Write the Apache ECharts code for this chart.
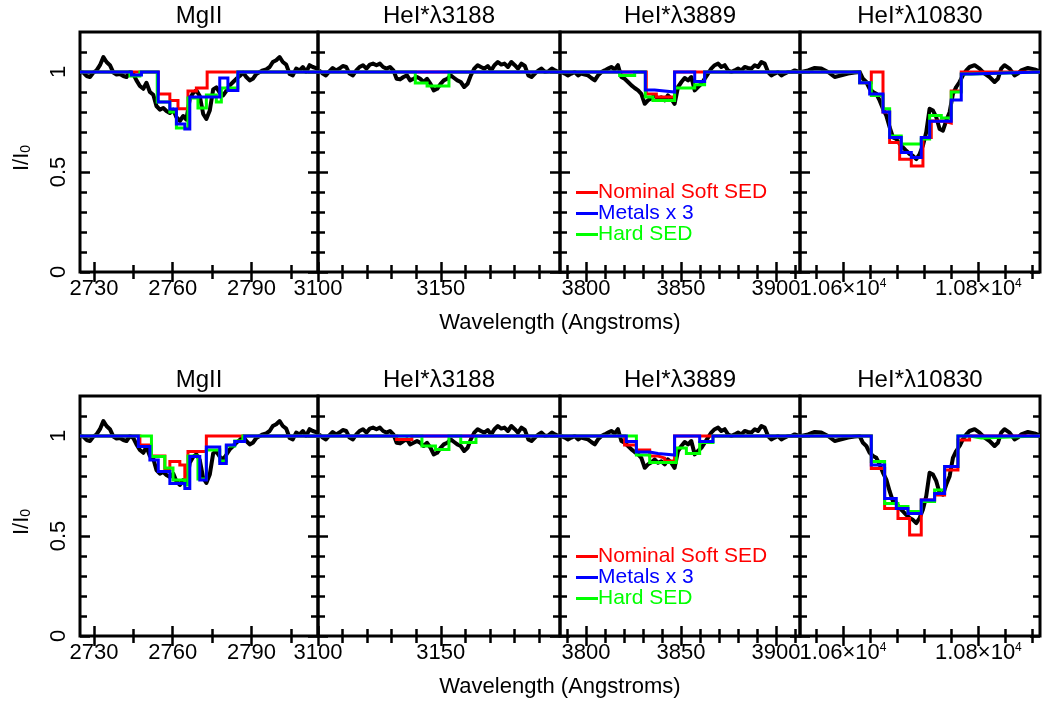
<!DOCTYPE html>
<html>
<head>
<meta charset="utf-8">
<script src="https://cdn.jsdelivr.net/npm/echarts@6/dist/echarts.min.js"></script>
<style>
  html, body { margin: 0; padding: 0; background: #fff; }
  #chart { width: 1042px; height: 702px; }
</style>
</head>
<body>
<div id="chart"></div>
<script>
// ---- Observed spectra (wavelength in Angstroms, normalised flux I/I0) ----
const mgWave = [2724.7,2726.0,2727.2,2728.5,2729.8,2731.0,2732.3,2733.6,2734.8,2736.1,2737.4,2738.6,2739.9,2741.2,2742.4,2743.7,2745.0,2746.2,2747.5,2748.8,2750.0,2751.3,2752.6,2753.8,2755.1,2756.4,2757.6,2758.9,2760.2,2761.4,2762.7,2764.0,2765.2,2766.5,2767.8,2769.0,2770.3,2771.6,2772.8,2774.1,2775.4,2776.6,2777.9,2779.2,2780.4,2781.7,2783.0,2784.2,2785.5,2786.8,2788.0,2789.3,2790.5,2791.8,2793.1,2794.3,2795.6,2796.9,2798.1,2799.4,2800.7,2801.9,2803.2,2804.5,2805.7,2807.0,2808.3,2809.5,2810.8,2812.1,2813.3,2815.1];
const mgFlux = [1.00,0.997,0.98,0.975,0.997,1.008,1.034,1.075,1.05,1.034,0.997,0.987,0.99,0.98,0.975,1.0,0.99,0.958,0.93,0.916,0.946,0.90,0.886,0.83,0.812,0.82,0.805,0.795,0.812,0.774,0.755,0.78,0.762,0.866,0.896,0.908,0.88,0.79,0.765,0.807,0.913,0.923,0.896,0.883,0.906,0.933,0.95,0.966,0.98,0.997,0.975,0.958,0.966,0.99,1.0,1.008,1.013,1.025,1.05,1.059,1.075,1.05,1.037,0.99,0.983,1.017,1.008,1.025,1.0,1.034,1.025,1.017];

const h3188Wave = [3100.5,3101.9,3103.2,3104.6,3106.0,3107.3,3108.7,3110.1,3111.5,3112.8,3114.2,3115.6,3116.9,3118.3,3119.7,3121.1,3122.4,3123.8,3125.2,3126.5,3127.9,3129.3,3130.7,3132.0,3133.4,3134.8,3136.2,3137.5,3138.9,3140.3,3141.6,3143.0,3144.4,3145.8,3147.1,3148.5,3149.9,3151.2,3152.6,3154.0,3155.4,3156.7,3158.1,3159.5,3160.9,3162.2,3163.6,3165.0,3166.3,3167.7,3169.1,3170.5,3171.8,3173.2,3174.6,3175.9,3177.3,3178.7,3180.1,3181.4,3182.8,3184.2,3185.6,3186.9,3188.3,3189.7,3191.0,3192.4,3193.8,3195.2,3196.5,3197.9];
const h3188Flux = [1.008,0.992,0.983,1.003,1.02,1.008,1.017,1.03,1.025,0.992,0.983,1.008,1.025,1.034,1.017,1.037,1.042,1.034,1.042,1.025,1.017,1.025,1.008,0.966,0.963,0.975,0.983,0.958,0.966,0.975,0.966,0.95,0.966,0.941,0.908,0.916,0.941,0.958,0.966,0.983,0.97,0.958,0.95,0.925,0.941,0.983,1.017,1.034,1.025,1.017,1.03,1.008,1.034,1.05,1.037,1.042,1.025,1.05,1.034,1.017,1.042,1.03,0.983,0.975,0.992,1.008,1.017,1.0,1.003,1.017,1.008,1.0];

const h3889Wave = [3787.0,3788.8,3790.5,3792.3,3794.0,3795.8,3797.5,3799.3,3801.0,3802.8,3804.6,3806.3,3808.1,3809.8,3811.6,3813.3,3815.1,3816.8,3818.6,3820.3,3822.1,3823.9,3825.6,3827.4,3829.1,3830.9,3832.6,3834.4,3836.1,3837.9,3839.6,3841.4,3843.1,3844.9,3846.6,3848.4,3850.2,3851.9,3853.7,3855.4,3857.2,3858.9,3860.7,3862.4,3864.2,3865.9,3867.7,3869.5,3871.2,3873.0,3874.7,3876.5,3878.2,3880.0,3881.7,3883.5,3885.2,3887.0,3888.8,3890.5,3892.3,3894.0,3895.8,3897.5,3899.3,3901.0,3902.8,3904.5,3906.3,3908.0,3909.8,3911.5];
const h3889Flux = [1.0,0.992,0.983,0.992,1.0,0.983,0.992,0.987,0.983,0.97,0.958,0.983,1.0,1.008,1.017,1.025,1.013,1.034,0.975,0.966,0.95,0.933,0.92,0.908,0.891,0.841,0.858,0.869,0.883,0.866,0.874,0.858,0.883,0.866,0.841,0.925,0.95,0.97,0.958,0.975,0.908,0.925,0.941,0.966,0.992,1.017,1.034,1.042,1.025,1.034,1.008,1.0,1.008,1.017,1.008,1.025,1.02,1.017,1.034,1.025,1.05,1.042,1.0,0.983,0.992,1.0,0.983,0.992,1.0,1.0,1.008,1.003];

const h10830Wave = [10538.5,10548.4,10558.2,10568.0,10577.9,10587.7,10597.6,10607.4,10617.2,10624.6,10629.5,10634.5,10639.4,10644.3,10649.2,10654.1,10659.1,10664.0,10668.9,10673.8,10678.7,10683.7,10688.6,10693.5,10698.4,10703.3,10708.3,10713.2,10718.1,10723.0,10727.9,10732.9,10737.8,10742.7,10747.6,10752.5,10757.5,10762.4,10767.3,10772.2,10777.1,10782.1,10787.0,10794.4,10801.7,10809.1,10816.5,10823.9,10828.8,10833.7,10838.6,10846.0,10853.4,10858.3,10863.2,10873.1,10882.9,10890.8];
const h10830Flux = [1.0,1.008,1.02,1.017,1.0,0.975,0.983,0.992,0.997,1.0,0.966,0.95,0.916,0.9,0.891,0.858,0.816,0.782,0.724,0.673,0.665,0.64,0.623,0.606,0.59,0.581,0.564,0.59,0.632,0.7,0.816,0.807,0.774,0.715,0.707,0.757,0.799,0.891,0.925,0.95,0.983,1.008,1.025,1.034,1.017,0.992,0.975,0.95,0.966,1.017,1.034,1.017,0.983,0.992,1.008,1.02,1.013,1.003];

// ---- Model profiles: [start wavelength of bin, I/I0 held until the next bin] ----
// Upper row
const mgTopRed   = [[2724.7,1],[2754.5,0.89],[2758.9,0.857],[2762.0,0.816],[2765.8,0.905],[2769.0,0.92],[2773.1,1],[2815.3,1]];
const mgTopGreen = [[2724.7,1],[2743.7,0.98],[2747.5,1],[2754.1,0.85],[2758.9,0.80],[2761.4,0.72],[2765.8,0.87],[2769.6,0.82],[2772.8,0.885],[2776.6,0.85],[2778.5,0.92],[2784.8,1],[2815.3,1]];
const mgTopBlue  = [[2724.7,1],[2744.3,0.985],[2748.1,1],[2754.5,0.85],[2758.9,0.815],[2761.4,0.74],[2764.6,0.715],[2766.5,0.875],[2777.9,0.97],[2781.0,0.908],[2784.8,1],[2815.3,1]];

const h3188TopRed   = [[3100,1],[3198.5,1]];
const h3188TopGreen = [[3100,1],[3139.6,0.945],[3144.4,0.93],[3153.3,1],[3198.5,1]];
const h3188TopBlue  = [[3100,1],[3198.5,1]];

const h3889TopRed   = [[3786.3,1],[3831.7,0.89],[3837.0,0.875],[3846.6,1],[3912.6,1]];
const h3889TopGreen = [[3786.3,1],[3817.7,0.983],[3825.6,1],[3831.2,0.875],[3835.2,0.858],[3846.6,0.92],[3857.2,0.936],[3862.4,1],[3912.6,1]];
const h3889TopBlue  = [[3786.3,1],[3831.2,0.91],[3836.1,0.9],[3846.6,1],[3857.2,0.953],[3862.4,1],[3912.6,1]];

const h10830TopRed   = [[10536.5,1],[10624.6,0.946],[10641.8,1],[10659.1,0.8],[10668.9,0.648],[10683.7,0.564],[10700.9,0.53],[10718.1,0.673],[10730.4,0.755],[10747.6,0.745],[10759.9,0.905],[10774.7,1],[10891,1]];
const h10830TopGreen = [[10536.5,1],[10624.6,0.946],[10641.8,0.882],[10659.1,0.816],[10668.9,0.68],[10686.1,0.64],[10715.6,0.665],[10728.0,0.782],[10745.2,0.77],[10759.9,0.9],[10774.7,0.99],[10789.4,1],[10891,1]];
const h10830TopBlue  = [[10536.5,1],[10624.6,0.946],[10639.4,0.89],[10659.1,0.8],[10668.9,0.673],[10686.1,0.598],[10700.9,0.573],[10715.6,0.673],[10728.0,0.754],[10759.9,0.86],[10774.7,0.99],[10789.4,1],[10891,1]];

// Lower row
const mgBotRed   = [[2724.7,1],[2747.5,0.955],[2751.9,0.9],[2757.0,0.83],[2758.9,0.872],[2762.7,0.855],[2764.6,0.79],[2765.8,0.922],[2772.8,1],[2815.3,1]];
const mgBotGreen = [[2724.7,1],[2751.9,0.897],[2757.0,0.84],[2760.1,0.78],[2764.6,0.755],[2765.8,0.9],[2769.6,0.785],[2772.8,0.93],[2777.9,0.875],[2780.4,0.95],[2783.6,0.975],[2786.7,1],[2815.3,1]];
const mgBotBlue  = [[2724.7,1],[2746.9,0.947],[2751.3,0.88],[2754.5,0.822],[2758.9,0.763],[2764.6,0.738],[2766.5,0.897],[2770.3,0.78],[2772.8,0.945],[2777.9,0.863],[2780.4,0.955],[2783.6,0.972],[2787.4,1],[2815.3,1]];

const h3188BotRed   = [[3100,1],[3132.0,0.983],[3138.2,1],[3198.5,1]];
const h3188BotGreen = [[3100,1],[3142.3,0.95],[3147.8,0.933],[3153.3,1],[3158.1,0.967],[3164.3,1],[3198.5,1]];
const h3188BotBlue  = [[3100,1],[3198.5,1]];

const h3889BotRed   = [[3786.3,1],[3820.3,0.955],[3826.5,0.93],[3833.5,0.9],[3837.9,0.89],[3841.4,0.875],[3846.6,1],[3912.6,1]];
const h3889BotGreen = [[3786.3,1],[3826.5,0.905],[3833.5,0.867],[3847.5,0.94],[3852.8,0.913],[3859.8,0.967],[3866.8,1],[3912.6,1]];
const h3889BotBlue  = [[3786.3,1],[3821.2,0.972],[3826.5,0.92],[3833.5,0.913],[3837.9,0.905],[3846.6,1],[3859.8,0.972],[3866.8,1],[3912.6,1]];

const h10830BotRed   = [[10536.5,1],[10641.8,0.838],[10661.5,0.638],[10681.2,0.588],[10698.4,0.505],[10715.6,0.68],[10735.3,0.705],[10750.1,0.83],[10769.8,0.98],[10787.0,1],[10891,1]];
const h10830BotGreen = [[10536.5,1],[10641.8,0.872],[10661.5,0.663],[10681.2,0.647],[10696.0,0.622],[10715.6,0.672],[10735.3,0.73],[10750.1,0.847],[10769.8,1],[10787.0,0.99],[10804.2,1],[10891,1]];
const h10830BotBlue  = [[10536.5,1],[10641.8,0.855],[10661.5,0.688],[10678.7,0.638],[10696.0,0.613],[10715.6,0.68],[10735.3,0.713],[10750.1,0.847],[10769.8,1],[10891,1]];

// ---- Panel titles and axis ticks ----
const panelTitles = ['MgII', 'HeI*\u03bb3188', 'HeI*\u03bb3889', 'HeI*\u03bb10830'];
const xMin = [2724.7, 3100, 3786.3, 10536.5];
const xMax = [2815.3, 3198.5, 3912.6, 10891];
const xMajor = [[2730,2760,2790],[3100,3150],[3800,3850,3900],[10600,10800]];
const xMinor = [[2745,2775,2805],[3110,3120,3130,3140,3160,3170,3180,3190],[3790,3810,3820,3830,3840,3860,3870,3880,3890,3910],[10560,10640,10680,10720,10760,10840,10880]];
const yMajor = [0, 0.5, 1];
const yMinor = [0.1,0.2,0.3,0.4,0.6,0.7,0.8,0.9,1.1];
const legendNames = ['Nominal Soft SED', 'Metals x 3', 'Hard SED'];

// ---- Layout ----
const FONT = "'Liberation Sans', Arial, Helvetica, sans-serif";
const colEdges = [80, 318, 560, 800, 1040];
const rowTops = [32, 396];
const rowHeight = 240;
const RED = '#ff0000', BLUE = '#0000ff', GREEN = '#00ff00';

const spectra = [[mgWave, mgFlux], [h3188Wave, h3188Flux], [h3889Wave, h3889Flux], [h10830Wave, h10830Flux]];
const models = [
  [[mgTopRed, mgTopGreen, mgTopBlue], [h3188TopRed, h3188TopGreen, h3188TopBlue], [h3889TopRed, h3889TopGreen, h3889TopBlue], [h10830TopRed, h10830TopGreen, h10830TopBlue]],
  [[mgBotRed, mgBotGreen, mgBotBlue], [h3188BotRed, h3188BotGreen, h3188BotBlue], [h3889BotRed, h3889BotGreen, h3889BotBlue], [h10830BotRed, h10830BotGreen, h10830BotBlue]]
];

function zip(xs, ys) {
  const n = Math.min(xs.length, ys.length);
  const out = [];
  for (let i = 0; i < n; i++) out.push([xs[i], ys[i]]);
  return out;
}

function xLabel(v) {
  if (v >= 10000) return (v / 10000).toFixed(2) + '\u00d710{sup|4}';
  return String(v);
}

const TICK_W = 2.5, MAJOR_LEN = 10, MINOR_LEN = 7;

const grid = [], xAxis = [], yAxis = [], series = [], graphic = [];

for (let r = 0; r < 2; r++) {
  for (let p = 0; p < 4; p++) {
    const gi = r * 4 + p;
    grid.push({
      left: colEdges[p], top: rowTops[r],
      width: colEdges[p + 1] - colEdges[p], height: rowHeight,
      show: true, borderColor: '#000', borderWidth: 3,
      backgroundColor: 'transparent',
      containLabel: false, outerBoundsMode: 'none'
    });

    const xBase = {
      type: 'value', gridIndex: gi, min: xMin[p], max: xMax[p],
      axisLine: { show: false }, splitLine: { show: false }
    };
    const tick = (vals, len) => ({ show: true, inside: true, length: len, customValues: vals,
      lineStyle: { color: '#000', width: TICK_W } });

    xAxis.push(Object.assign({}, xBase, {
      position: 'bottom', axisTick: tick(xMajor[p], MAJOR_LEN),
      axisLabel: {
        show: true, customValues: xMajor[p], margin: 6, color: '#000',
        fontSize: 22, fontFamily: FONT, formatter: xLabel,
        rich: { sup: { fontSize: 12, fontFamily: FONT, color: '#000', verticalAlign: 'top', padding: [0, 0, 9, 0] } }
      }
    }));
    xAxis.push(Object.assign({}, xBase, { position: 'bottom', axisTick: tick(xMinor[p], MINOR_LEN), axisLabel: { show: false } }));
    xAxis.push(Object.assign({}, xBase, { position: 'top', axisTick: tick(xMajor[p], MAJOR_LEN), axisLabel: { show: false } }));
    xAxis.push(Object.assign({}, xBase, { position: 'top', axisTick: tick(xMinor[p], MINOR_LEN), axisLabel: { show: false } }));

    const yBase = {
      type: 'value', gridIndex: gi, min: 0, max: 1.2,
      axisLine: { show: false }, splitLine: { show: false }
    };
    const leftMain = Object.assign({}, yBase, {
      position: 'left', axisTick: tick(yMajor, MAJOR_LEN),
      axisLabel: {
        show: p === 0, customValues: yMajor, rotate: 90, margin: 10, color: '#000',
        fontSize: 22, fontFamily: FONT
      }
    });
    if (p === 0) {
      Object.assign(leftMain, {
        name: 'I/I{sub|0}', nameLocation: 'middle', nameRotate: 90, nameGap: 47,
        nameTextStyle: {
          color: '#000', fontSize: 22, fontFamily: FONT, padding: [0, 12, 0, 0],
          rich: { sub: { fontSize: 14, fontFamily: FONT, color: '#000', verticalAlign: 'bottom', padding: [6, 0, 0, 0] } }
        }
      });
    }
    yAxis.push(leftMain);
    yAxis.push(Object.assign({}, yBase, { position: 'left', axisTick: tick(yMinor, MINOR_LEN), axisLabel: { show: false } }));
    yAxis.push(Object.assign({}, yBase, { position: 'right', axisTick: tick(yMajor, MAJOR_LEN), axisLabel: { show: false } }));
    yAxis.push(Object.assign({}, yBase, { position: 'right', axisTick: tick(yMinor, MINOR_LEN), axisLabel: { show: false } }));

    // observed spectrum
    series.push({
      type: 'line', name: 'data', xAxisIndex: gi * 4, yAxisIndex: gi * 4,
      data: zip(spectra[p][0], spectra[p][1]), showSymbol: false, symbol: 'none',
      color: '#000', lineStyle: { color: '#000', width: 4, join: 'round' },
      clip: true, z: 2, silent: true
    });
    // model profiles
    const [red, green, blue] = models[r][p];
    [[red, RED, legendNames[0], 3], [green, GREEN, legendNames[2], 4], [blue, BLUE, legendNames[1], 5]].forEach(([d, c, n, z]) => {
      series.push({
        type: 'line', name: n, xAxisIndex: gi * 4, yAxisIndex: gi * 4,
        data: d, step: 'end', showSymbol: false, symbol: 'none',
        color: c, lineStyle: { color: c, width: 3, join: 'miter', cap: 'butt' },
        clip: true, z: z, silent: true
      });
    });

    graphic.push({
      type: 'text', x: (colEdges[p] + colEdges[p + 1]) / 2, y: rowTops[r] - 16,
      style: { text: panelTitles[p], font: '24px ' + FONT, fill: '#000', textAlign: 'center', textVerticalAlign: 'middle' }
    });
  }
  graphic.push({
    type: 'text', x: 560, y: rowTops[r] + rowHeight + 51,
    style: { text: 'Wavelength (Angstroms)', font: '22px ' + FONT, fill: '#000', textAlign: 'center', textVerticalAlign: 'middle' }
  });
}

const legendItems = [
  { name: legendNames[0], textStyle: { color: RED } },
  { name: legendNames[1], textStyle: { color: BLUE } },
  { name: legendNames[2], textStyle: { color: GREEN } }
];
const legend = rowTops.map(t => ({
  orient: 'vertical', left: 576, top: t + 150, padding: 0, itemGap: 0,
  itemWidth: 22, itemHeight: 3, icon: 'rect', selectedMode: false,
  textStyle: { fontSize: 21, fontFamily: FONT, lineHeight: 20, padding: [0, 0, 0, -5] },
  data: legendItems
}));

const chart = echarts.init(document.getElementById('chart'), null, { renderer: 'canvas' });
chart.setOption({
  animation: false,
  backgroundColor: '#fff',
  grid, xAxis, yAxis, series, legend, graphic
});
</script>
</body>
</html>
